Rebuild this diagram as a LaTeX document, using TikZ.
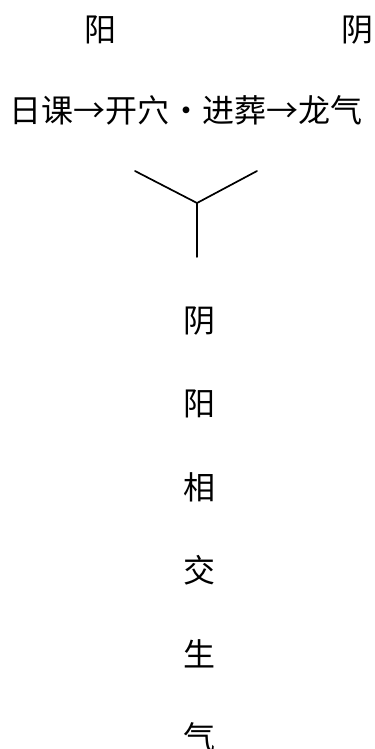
\documentclass[tikz,border=0pt]{standalone}
\usepackage{fontspec}
\setmainfont{Noto Sans CJK SC}
\begin{document}
\begin{tikzpicture}[x=1bp,y=-1bp,line join=round, line cap=round]
            \def\fs{\fontsize{32bp}{32bp}\selectfont}
            \useasboundingbox (0,0) rectangle (374,749);
            \node (yang) at (100,30) {\fs 阳};
            \node (yin) at (357,30) {\fs 阴};
            \node (chain) at (186,110) {\fs 日课→开穴・进葬→龙气};
            % the fork
            \coordinate (fl) at (135,171);
            \coordinate (fm) at (197,203);
            \coordinate (fr) at (257,171);
            \coordinate (fs) at (197,257);
            \draw[line width=1.7bp] (fl)--(fm)--(fr);
            \draw[line width=1.5bp] (fm)--(fs);
            \foreach \c [count=\i from 0] in {阴,阳,相,交,生,气}
                \node (col\i) at (199,{321+83.2*\i}) {\fs\c};
    \end{tikzpicture}
\end{document}
